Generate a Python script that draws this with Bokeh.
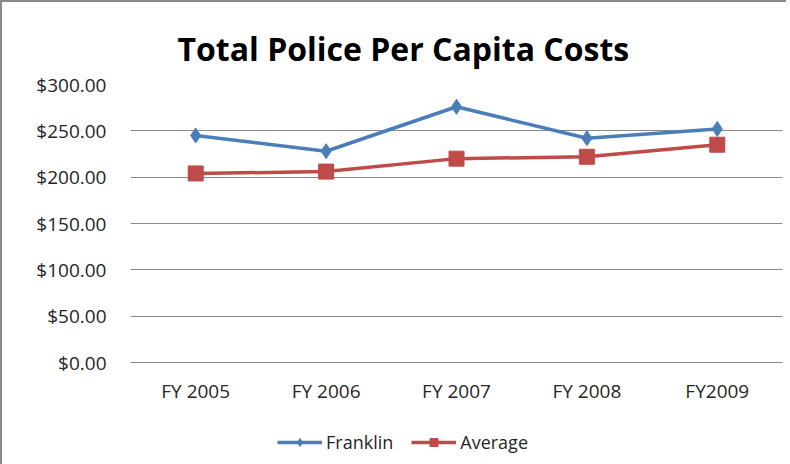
from bokeh.plotting import figure
from bokeh.layouts import column
from bokeh.models import Range1d, FixedTicker, NumeralTickFormatter, Legend, LegendItem
from bokeh.embed import file_html
from bokeh.resources import INLINE

categories = ["FY 2005", "FY 2006", "FY 2007", "FY 2008", "FY2009"]
franklin = [245, 228, 276, 242, 252]
average = [204, 206, 220, 222, 235]
y_ticks = [0, 50, 100, 150, 200, 250, 300]
series_names = ["Franklin", "Average"]

BLUE = "#4a7ebb"
RED = "#be4b48"
GRID = "#8a8a8a"
TEXT = "#262626"
BORDER = "2px solid #8a8a8a"

# ---- main chart ----
p = figure(x_range=categories, y_range=Range1d(0, 300),
           width=786, height=398, frame_width=650, frame_height=276,
           output_backend="svg", toolbar_location=None,
           min_border_left=128, min_border_right=6, min_border_top=82, min_border_bottom=38)
p.styles = {"border-left": BORDER, "border-top": BORDER}
p.outline_line_color = None
p.background_fill_color = "white"
p.border_fill_color = "white"

p.title.text = "Total Police Per Capita Costs"
p.title.text_font = "Open Sans"
p.title.text_font_style = "bold"
p.title.text_font_size = "32px"
p.title.text_color = "black"
p.title.align = "left"
p.title.offset = 47
p.title.standoff = 30

p.line(categories, franklin, line_color=BLUE, line_width=3.5)
p.scatter(categories, franklin, marker="diamond", size=15, fill_color=BLUE, line_color=BLUE)
p.line(categories, average, line_color=RED, line_width=3.5)
p.scatter(categories, average, marker="square", size=15, fill_color=RED, line_color=RED)

p.yaxis.ticker = FixedTicker(ticks=y_ticks)
p.yaxis.formatter = NumeralTickFormatter(format="$0.00")
p.yaxis.axis_line_color = None
p.yaxis.major_tick_line_color = None
p.yaxis.minor_tick_line_color = None
p.yaxis.major_label_standoff = 18
p.yaxis.major_label_text_font = "Open Sans"
p.yaxis.major_label_text_font_size = "19px"
p.yaxis.major_label_text_color = TEXT

p.xaxis.axis_line_color = GRID
p.xaxis.major_tick_line_color = None
p.xaxis.minor_tick_line_color = None
p.xaxis.major_label_standoff = 9
p.xaxis.major_label_text_font = "Open Sans"
p.xaxis.major_label_text_font_size = "19px"
p.xaxis.major_label_text_color = TEXT

p.xgrid.grid_line_color = None
p.ygrid.grid_line_color = GRID
p.ygrid.grid_line_width = 1

# ---- legend strip (same series, plotted outside its visible range so only the key shows) ----
q = figure(x_range=categories, y_range=Range1d(-2, -1),
           width=786, height=60, frame_width=784, frame_height=60,
           x_axis_type=None, y_axis_type=None,
           output_backend="svg", toolbar_location=None,
           min_border_left=0, min_border_right=0, min_border_top=0, min_border_bottom=0)
q.styles = {"border-left": BORDER}
q.outline_line_color = None
q.background_fill_color = "white"
q.border_fill_color = "white"
q.grid.grid_line_color = None

k1 = q.line(categories, franklin, line_color=BLUE, line_width=3.5)
k2 = q.scatter(categories, franklin, marker="diamond", size=15, fill_color=BLUE, line_color=BLUE)
k3 = q.line(categories, average, line_color=RED, line_width=3.5)
k4 = q.scatter(categories, average, marker="square", size=15, fill_color=RED, line_color=RED)

legend = Legend(items=[LegendItem(label=series_names[0], renderers=[k1, k2]),
                       LegendItem(label=series_names[1], renderers=[k3, k4])],
                orientation="horizontal", location=(275, 10),
                glyph_width=45, glyph_height=20, label_standoff=4, spacing=18,
                padding=0, margin=0, border_line_color=None, background_fill_alpha=0,
                label_text_font="Open Sans", label_text_font_size="18px", label_text_color=TEXT)
q.add_layout(legend, "center")

layout = column(p, q, spacing=0)
open("out.html", "w").write(file_html(layout, INLINE))
